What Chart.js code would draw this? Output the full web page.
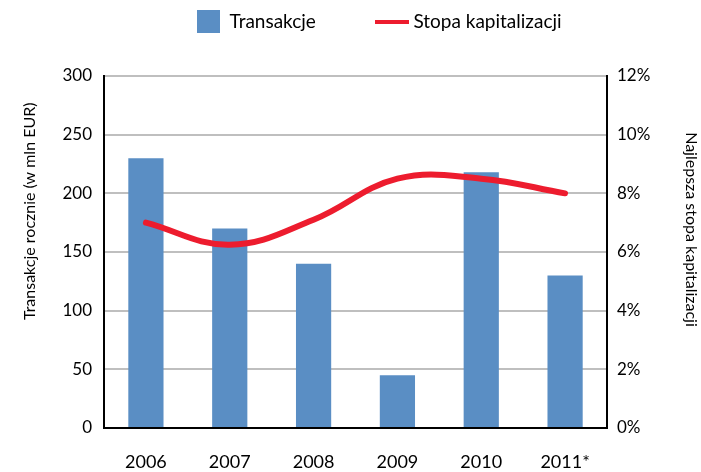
<!DOCTYPE html>
<html>
<head>
<meta charset="utf-8">
<script src="https://cdn.jsdelivr.net/npm/chart.js@4.4.0/dist/chart.umd.min.js"></script>
<style>
  html, body { margin: 0; padding: 0; background: #fff; }
  #wrap { width: 701px; height: 472px; }
</style>
</head>
<body>
<div id="wrap"><canvas id="chart"></canvas></div>
<script>
// Transakcje vs stopa kapitalizacji
const years = ['2006', '2007', '2008', '2009', '2010', '2011*'];
const transakcje = [230, 170, 140, 45, 218, 130];
const stopa = [7.0, 6.25, 7.1, 8.5, 8.5, 8.0];
const leftTicks = [0, 50, 100, 150, 200, 250, 300];
const rightTicks = [0, 2, 4, 6, 8, 10, 12];

const BLUE = '#5A8EC4';
const RED = '#ED1C2E';

Chart.defaults.font.family = "'Lato', 'Open Sans', sans-serif";
Chart.defaults.color = '#000';

// small legend markers: square for bars, short thick line for the rate
function marker(w, h, color) {
    const c = document.createElement('canvas');
    c.width = w;
    c.height = h;
    const g = c.getContext('2d');
    g.fillStyle = color;
    g.fillRect(0, 0, w, h);
    return c;
}
const barMarker = marker(23, 23, BLUE);
const lineMarker = marker(34, 4, RED);

const nbsp = n => '\u00A0'.repeat(n);

// legend: keep it small but leave a gap above the plot, and place it like the original
const LEG_PAD = 64;
const legendPlace = {
    id: 'legendPlace',
    beforeInit(chart) {
        const fit = chart.legend.fit;
        chart.legend.fit = function () {
            fit.bind(chart.legend)();
            this.height = 76;
        };
    },
    afterLayout(chart) {
        const lg = chart.legend;
        lg.top = 12 - LEG_PAD;
        lg.left = 196 - LEG_PAD;
    }
};

const ctx = document.getElementById('chart').getContext('2d');
new Chart(ctx, {
    data: {
        labels: years,
        datasets: [
            {
                type: 'line',
                label: 'Stopa kapitalizacji',
                data: stopa,
                yAxisID: 'y2',
                borderColor: RED,
                backgroundColor: RED,
                borderWidth: 6,
                borderCapStyle: 'round',
                pointRadius: 0,
                pointStyle: lineMarker,
                tension: 0.4,
                order: 0
            },
            {
                type: 'bar',
                label: 'Transakcje',
                data: transakcje,
                yAxisID: 'y',
                backgroundColor: BLUE,
                pointStyle: barMarker,
                categoryPercentage: 1,
                barPercentage: 0.42,
                order: 1
            }
        ]
    },
    options: {
        responsive: true,
        maintainAspectRatio: false,
        animation: false,
        layout: { padding: 0 },
        plugins: {
            legend: {
                position: 'top',
                align: 'start',
                reverse: true,
                labels: {
                    usePointStyle: true,
                    pointStyleWidth: 24,
                    boxHeight: 19,
                    font: { size: 19 },
                    padding: LEG_PAD
                }
            },
            tooltip: { enabled: false }
        },
        scales: {
            x: {
                grid: { display: false, drawTicks: false },
                border: { color: '#000', width: 2 },
                ticks: { font: { size: 18 }, padding: 23 },
                afterFit: function (s) { s.height = 44; }
            },
            y: {
                position: 'left',
                min: 0,
                max: 300,
                afterBuildTicks: function (s) { s.ticks = leftTicks.map(v => ({ value: v })); },
                grid: { color: '#BFBFBF', lineWidth: 2, drawTicks: false },
                border: { color: '#000', width: 2 },
                ticks: { font: { size: 17 }, padding: 12 },
                title: {
                    display: true,
                    text: nbsp(20) + 'Transakcje rocznie (w mln EUR)',
                    font: { size: 16 },
                    padding: { top: 20, bottom: 0 }
                },
                afterFit: function (s) { s.width = 104; }
            },
            y2: {
                position: 'right',
                min: 0,
                max: 12,
                afterBuildTicks: function (s) { s.ticks = rightTicks.map(v => ({ value: v })); },
                grid: { display: false, drawTicks: false },
                border: { color: '#000', width: 2 },
                ticks: {
                    font: { size: 17 },
                    padding: 10,
                    callback: v => v + '%'
                },
                title: {
                    display: true,
                    text: 'Najlepsza stopa kapitalizacji' + nbsp(11),
                    font: { size: 16 },
                    padding: { top: 0, bottom: 0 }
                },
                afterFit: function (s) { s.width = 94; }
            }
        }
    },
    plugins: [legendPlace]
});
</script>
</body>
</html>
